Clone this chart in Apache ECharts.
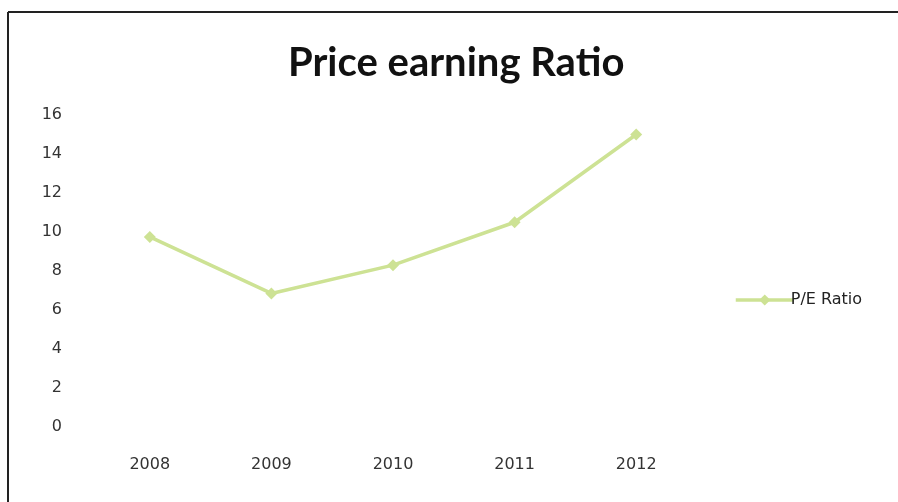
<!DOCTYPE html>
<html>
<head>
<meta charset="utf-8">
<script src="https://cdn.jsdelivr.net/npm/echarts@6/dist/echarts.min.js"></script>
<style>
  html, body { margin: 0; padding: 0; background: #fff; }
  #chart { width: 898px; height: 502px; }
</style>
</head>
<body>
<div id="chart"></div>
<script>
const years = ['2008', '2009', '2010', '2011', '2012'];
const peRatio = [9.75, 6.85, 8.3, 10.5, 15.0];
const yTicks = { min: 0, max: 16, step: 2 };

const chart = echarts.init(document.getElementById('chart'), null, { renderer: 'canvas' });
const labelFont = { fontFamily: 'DejaVu Sans', fontSize: 16, color: '#333' };
const lineColor = '#cde294';

chart.setOption({
  backgroundColor: '#fff',
  animation: false,
  title: {
    text: 'Price earning Ratio',
    left: 283,
    top: 38,
    textStyle: { fontFamily: 'Lato', fontWeight: 'bold', fontSize: 40, color: '#111' }
  },
  legend: {
    left: 729,
    top: 287,
    orient: 'vertical',
    itemWidth: 58,
    itemHeight: 14,
    itemGap: 0,
    lineStyle: { width: 3.5 },
    textStyle: { fontFamily: 'DejaVu Sans', fontSize: 16, color: '#222', padding: [0, 0, 0, -8] },
    data: ['P/E Ratio']
  },
  grid: { left: 89, right: 201, top: 115, bottom: 75 },
  xAxis: {
    type: 'category',
    data: years,
    boundaryGap: true,
    axisLine: { show: false },
    axisTick: { show: false },
    axisLabel: Object.assign({ margin: 30 }, labelFont)
  },
  yAxis: {
    type: 'value',
    min: yTicks.min,
    max: yTicks.max,
    interval: yTicks.step,
    axisLine: { show: false },
    axisTick: { show: false },
    splitLine: { show: false },
    axisLabel: Object.assign({ margin: 27 }, labelFont)
  },
  series: [{
    name: 'P/E Ratio',
    type: 'line',
    data: peRatio,
    symbol: 'diamond',
    symbolSize: 12,
    lineStyle: { color: lineColor, width: 3.5 },
    itemStyle: { color: lineColor }
  }],
  graphic: [
    { type: 'line', shape: { x1: 8, y1: 12, x2: 898, y2: 12 }, style: { stroke: '#222', lineWidth: 2 } },
    { type: 'line', shape: { x1: 8, y1: 12, x2: 8, y2: 502 }, style: { stroke: '#222', lineWidth: 2 } }
  ]
});
</script>
</body>
</html>
